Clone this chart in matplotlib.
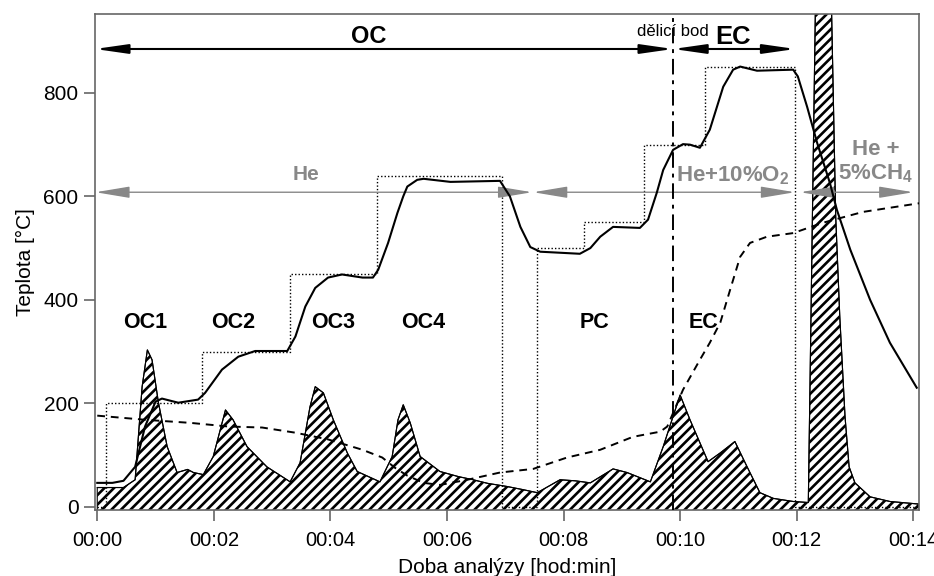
import matplotlib
matplotlib.use("Agg")
import matplotlib.pyplot as plt
from matplotlib.ticker import FuncFormatter

DPI = 86
K = 100 / DPI   # sizes below are tuned as if drawn at 100 dpi

plt.rcParams['font.family'] = ['Liberation Sans', 'DejaVu Sans']
plt.rcParams['mathtext.fontset'] = 'custom'
plt.rcParams['mathtext.bf'] = 'Liberation Sans:bold'
plt.rcParams['mathtext.rm'] = 'Liberation Sans'
plt.rcParams['hatch.linewidth'] = 1.9 * K

# programmed oven temperature (steps), time in minutes
prog_t = [0, 0.15, 1.8, 3.3, 4.8, 6.95, 7.55, 8.35, 9.38, 10.43, 11.98, 14.1]
prog_T = [0, 200, 300, 450, 640, 0, 500, 550, 700, 850, 0, 0]

# measured temperature
temp_t = [0, 0.26, 0.45, 0.65, 0.82, 1.0, 1.11, 1.39, 1.73, 1.85, 2.14, 2.42, 2.71,
          3.26, 3.4, 3.57, 3.74, 3.96, 4.2, 4.55, 4.73, 4.82, 4.99, 5.15, 5.25, 5.32,
          5.49, 5.6, 6.06, 6.91, 7.08, 7.26, 7.43, 7.6, 8.28, 8.46, 8.63, 8.85, 9.31,
          9.45, 9.6, 9.71, 9.88, 10.05, 10.17, 10.34, 10.51, 10.74, 10.91, 11.03, 11.32,
          11.94, 12.02, 12.18, 12.35, 12.57, 12.69, 12.92, 13.26, 13.6, 14.06]
temp_T = [46, 46, 50, 77, 155, 203, 209, 201, 207, 220, 265, 290, 301,
          301, 329, 387, 423, 443, 449, 443, 443, 458, 510, 568, 600, 619,
          632, 634, 628, 630, 600, 541, 502, 493, 489, 500, 522, 541, 539,
          555, 607, 651, 690, 701, 700, 694, 729, 812, 845, 851, 843,
          845, 832, 773, 704, 626, 574, 497, 400, 317, 230]

# transmittance-like dashed signal
dash_t = [0, 0.82, 1.6, 2.25, 2.83, 3.4, 3.96, 4.55, 4.89, 5.11, 5.32, 5.6, 5.88,
          6.35, 6.91, 7.48, 8.06, 8.63, 9.19, 9.66, 9.78, 10.05, 10.34, 10.51, 10.69,
          10.86, 11.03, 11.2, 11.49, 11.94, 12.45, 13.14, 14.12]
dash_T = [176, 168, 162, 155, 153, 143, 130, 110, 95, 75, 60, 46, 42,
          52, 66, 73, 95, 110, 135, 145, 155, 226, 284, 317, 356,
          420, 483, 510, 522, 529, 549, 570, 587]

# FID signal (hatched)
fid_t = [0, 0.45, 0.65, 0.77, 0.86, 0.94, 1.05, 1.2, 1.37, 1.55, 1.65, 1.82, 1.99,
         2.2, 2.33, 2.57, 2.91, 3.31, 3.48, 3.65, 3.74, 3.88, 4.05, 4.29, 4.46, 4.85,
         5.06, 5.16, 5.25, 5.37, 5.54, 5.88, 6.2, 6.45, 6.7, 7.03, 7.3, 7.55, 7.94,
         8.2, 8.46, 8.85, 9.09, 9.49, 9.71, 10.0, 10.17, 10.48, 10.69, 10.94, 11.15,
         11.37, 11.6, 11.94, 12.2, 12.32, 12.45, 12.6, 12.67, 12.74, 12.83, 12.9,
         13.0, 13.26, 13.6, 14.1]
fid_S = [37, 37, 52, 232, 303, 284, 201, 116, 66, 72, 66, 62, 97,
         187, 168, 116, 77, 48, 85, 193, 232, 220, 168, 104, 68, 48,
         97, 168, 197, 162, 97, 68, 58, 52, 45, 39, 33, 27, 52,
         50, 46, 73, 66, 48, 116, 216, 168, 87, 104, 126, 77,
         27, 16, 10, 8, 953, 1300, 953, 561, 367, 174, 77,
         46, 19, 10, 5]

split_t = 9.88

fig = plt.figure(figsize=(934 / DPI, 576 / DPI), dpi=DPI)
ax = fig.add_axes([0.102, 0.115, 0.882, 0.861])

ax.fill_between(fid_t, fid_S, -10, facecolor='white', edgecolor='black',
                hatch='///', linewidth=0.8 * K, zorder=1)
ax.plot(fid_t, fid_S, color='black', lw=0.8 * K, zorder=2)
ax.plot(prog_t, prog_T, drawstyle='steps-post', color='black', lw=1.0 * K,
        linestyle=(0, (1, 1.5)), zorder=3)
ax.plot(temp_t, temp_T, color='black', lw=1.5 * K, zorder=4)
ax.plot(dash_t, dash_T, color='black', lw=1.4 * K, linestyle=(0, (4, 3)), zorder=4)
ax.axvline(split_t, color='black', lw=1.4 * K, linestyle=(0, (8, 3, 2, 3)), zorder=5)

# phase arrows
blk = dict(arrowstyle='<|-|>,head_length=1.4,head_width=0.2', color='black', lw=1.5 * K,
           shrinkA=0, shrinkB=0, mutation_scale=14 * K)
ax.annotate('', xy=(-0.04, 885), xytext=(split_t, 885), arrowprops=blk,
            annotation_clip=False)
ax.annotate('', xy=(split_t, 885), xytext=(11.98, 885), arrowprops=blk)
ax.text(4.65, 910, 'OC', fontsize=17 * K, fontweight='bold', ha='center', va='center')
ax.text(10.9, 908, 'EC', fontsize=18.5 * K, fontweight='bold', ha='center', va='center')
ax.text(split_t, 918, 'dělicí bod', fontsize=12 * K, ha='center', va='center')

gc = '#888888'
gry = dict(arrowstyle='<|-|>,head_length=1.5,head_width=0.25', color=gc, lw=1.0 * K,
           shrinkA=0, shrinkB=0, mutation_scale=14 * K)
ax.annotate('', xy=(-0.03, 608), xytext=(7.46, 608), arrowprops=gry,
            annotation_clip=False)
ax.annotate('', xy=(7.48, 608), xytext=(11.97, 608), arrowprops=gry)
ax.annotate('', xy=(12.06, 608), xytext=(14.0, 608), arrowprops=gry)
ax.text(3.58, 642, 'He', fontsize=15 * K, fontweight='bold', color=gc, ha='center', va='center')
ax.text(10.9, 640, 'He+10%O$_\\mathbf{2}$', fontsize=16 * K, fontweight='bold', color=gc,
        ha='center', va='center')
ax.text(13.35, 667, 'He +\n5%CH$_\\mathbf{4}$', fontsize=16 * K, fontweight='bold', color=gc,
        ha='center', va='center', linespacing=1.15)

fractions = ['OC1', 'OC2', 'OC3', 'OC4', 'PC', 'EC']
frac_t = [0.82, 2.33, 4.05, 5.6, 8.54, 10.41]
for lab, t in zip(fractions, frac_t):
    ax.text(t, 357, lab, fontsize=15.5 * K, fontweight='bold', ha='center', va='center')

ax.set_xlim(-0.034, 14.1)
ax.set_ylim(-6, 953)
ax.set_xticks(range(0, 15, 2))
ax.xaxis.set_major_formatter(FuncFormatter(lambda v, p: '00:%02d' % int(round(v))))
ax.set_yticks([0, 200, 400, 600, 800])
ax.tick_params(axis='both', direction='out', length=8 * K, width=1.2 * K, color='#666666',
               labelsize=15 * K)
ax.tick_params(axis='x', pad=7 * K, labelsize=14.5 * K)
ax.tick_params(axis='y', pad=4 * K)
for s in ax.spines.values():
    s.set_color('#666666')
    s.set_linewidth(1.2 * K)
ax.set_xlabel('Doba analýzy [hod:min]', fontsize=15 * K, labelpad=6 * K)
ax.set_ylabel('Teplota [°C]', fontsize=15 * K, labelpad=6 * K)

fig.savefig('out.png', dpi=DPI)
